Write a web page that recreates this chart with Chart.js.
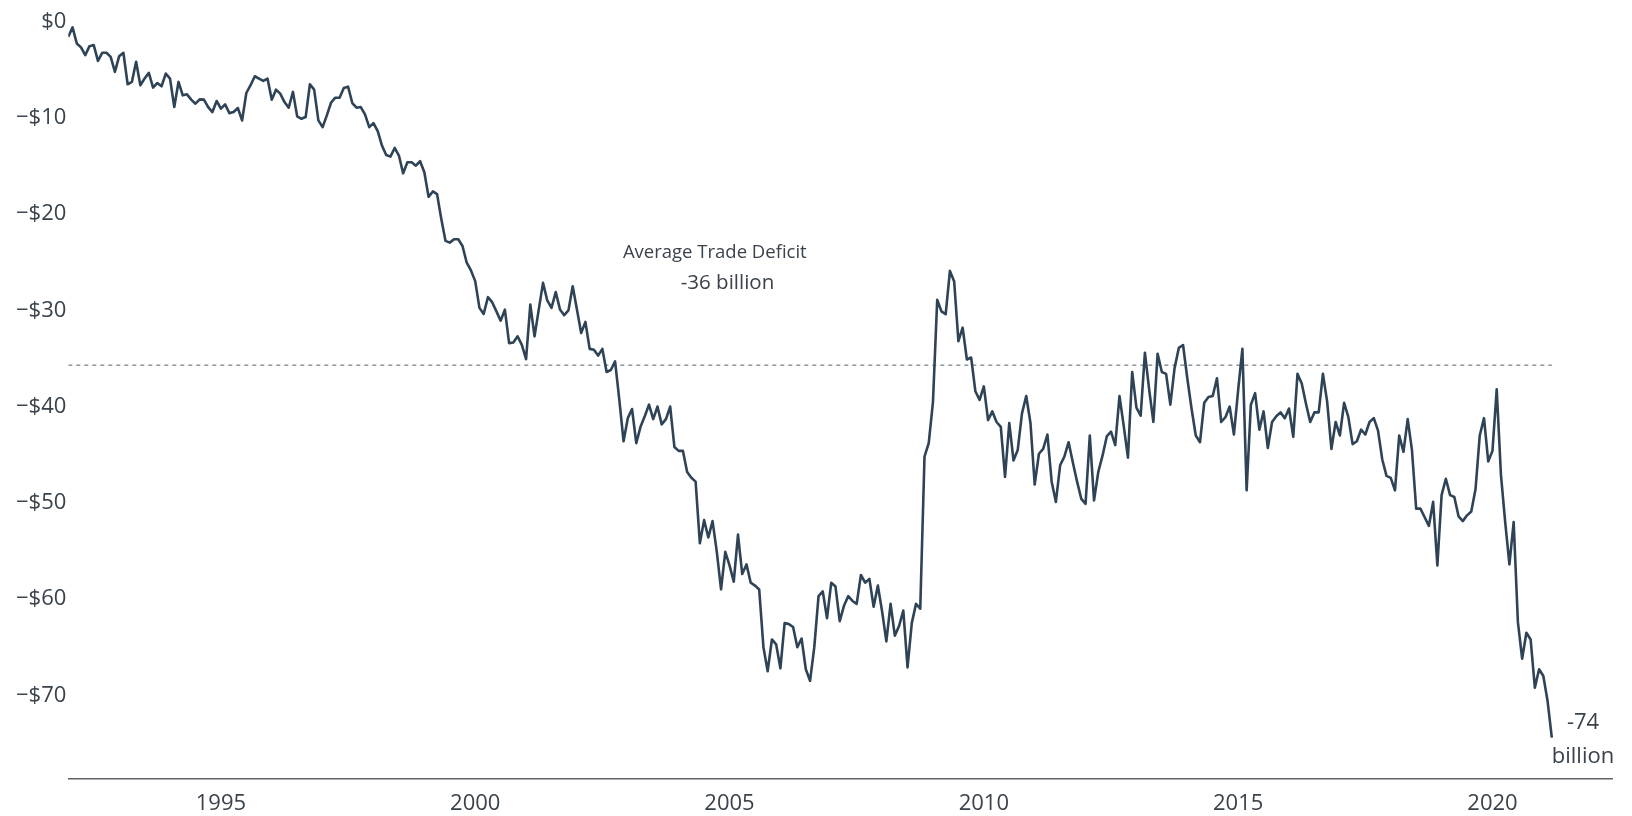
<!DOCTYPE html>
<html>
<head>
<meta charset="utf-8">
<script src="https://cdn.jsdelivr.net/npm/chart.js@4/dist/chart.umd.min.js"></script>
<style>
  html, body { margin: 0; padding: 0; background: #ffffff; }
  #wrap { width: 1632px; height: 816px; position: relative; }
</style>
</head>
<body>
<div id="wrap"><canvas id="c" width="1632" height="816"></canvas></div>
<script>
// Monthly US trade balance, billions of dollars, starting January 1992
const startYear = 1992;
const monthsPerYear = 12;
const tradeBalance = [
  -1.57, -0.59, -2.26, -2.67, -3.48, -2.54, -2.43, -4.07, -3.23, -3.23, -3.65, -5.21,
  -3.58, -3.23, -6.50, -6.26, -4.17, -6.60, -5.91, -5.32, -6.85, -6.37, -6.71, -5.39,
  -5.91, -8.87, -6.26, -7.65, -7.55, -8.10, -8.52, -8.07, -8.10, -8.87, -9.39, -8.24,
  -9.04, -8.59, -9.50, -9.39, -8.97, -10.26, -7.41, -6.60, -5.67, -5.91, -6.15, -5.91,
  -8.10, -7.06, -7.48, -8.35, -8.94, -7.30, -9.84, -10.09, -9.91, -6.50, -7.06, -10.26,
  -10.96, -9.74, -8.40, -7.90, -7.90, -6.90, -6.75, -8.45, -8.94, -8.87, -9.64, -10.96,
  -10.54, -11.38, -12.87, -13.85, -14.02, -13.12, -13.91, -15.76, -14.61, -14.61, -14.96, -14.50,
  -15.65, -18.20, -17.64, -17.92, -20.50, -22.78, -22.96, -22.61, -22.61, -23.31, -25.05, -25.85,
  -26.96, -29.74, -30.37, -28.63, -29.15, -30.10, -31.07, -29.92, -33.40, -33.33, -32.70, -33.58,
  -35.07, -29.40, -32.70, -29.90, -27.14, -28.97, -29.74, -28.10, -29.90, -30.50, -30.00, -27.50,
  -29.90, -32.36, -31.20, -34.00, -34.10, -34.70, -34.00, -36.40, -36.20, -35.30, -39.30, -43.60,
  -41.20, -40.25, -43.80, -42.10, -41.00, -39.80, -41.30, -40.00, -41.85, -41.30, -40.00, -44.20,
  -44.60, -44.60, -46.80, -47.40, -47.80, -54.20, -51.80, -53.60, -51.90, -55.10, -59.00, -55.10,
  -56.50, -58.20, -53.30, -57.40, -56.40, -58.30, -58.60, -59.00, -65.00, -67.50, -64.20, -64.70,
  -67.20, -62.50, -62.60, -62.90, -65.00, -64.10, -67.30, -68.50, -65.00, -59.70, -59.20, -62.00,
  -58.30, -58.70, -62.30, -60.70, -59.70, -60.20, -60.50, -57.50, -58.30, -57.90, -60.80, -58.60,
  -61.30, -64.40, -60.50, -63.80, -62.80, -61.20, -67.10, -62.50, -60.50, -61.00, -45.20, -43.80,
  -39.50, -28.90, -30.10, -30.40, -25.90, -27.00, -33.20, -31.80, -35.10, -34.90, -38.40, -39.30,
  -37.90, -41.40, -40.50, -41.60, -42.10, -47.30, -41.70, -45.60, -44.50, -40.70, -38.90, -41.70,
  -48.10, -44.90, -44.40, -42.90, -47.80, -49.90, -46.10, -45.20, -43.70, -45.80, -47.80, -49.60,
  -50.10, -43.00, -49.75, -46.80, -45.10, -43.10, -42.60, -44.00, -38.90, -42.00, -45.30, -36.40,
  -40.10, -40.95, -34.40, -38.20, -41.60, -34.50, -36.40, -36.60, -39.80, -36.00, -33.90, -33.60,
  -37.05, -40.20, -43.00, -43.70, -39.60, -39.00, -38.90, -37.05, -41.60, -41.10, -40.00, -42.90,
  -38.30, -34.00, -48.70, -39.80, -38.60, -42.40, -40.50, -44.30, -41.60, -41.00, -40.60, -41.20,
  -40.20, -43.15, -36.60, -37.60, -39.70, -41.60, -40.60, -40.60, -36.60, -39.50, -44.40, -41.60,
  -43.00, -39.60, -41.10, -43.90, -43.60, -42.40, -42.90, -41.60, -41.20, -42.50, -45.50, -47.20,
  -47.40, -48.70, -43.00, -44.70, -41.30, -44.50, -50.60, -50.60, -51.50, -52.40, -49.90, -56.50,
  -49.20, -47.50, -49.20, -49.40, -51.40, -51.90, -51.30, -50.90, -48.60, -43.00, -41.20, -45.70,
  -44.60, -38.20, -47.10, -52.00, -56.40, -52.00, -62.40, -66.20, -63.50, -64.20, -69.20, -67.30,
  -68.00, -70.60, -74.40
];
const averageDeficit = -35.7;
const yTickValues = [0, -10, -20, -30, -40, -50, -60, -70];
const xTickValues = [1995, 2000, 2005, 2010, 2015, 2020];
const annotationLines = [
  { text: 'Average Trade Deficit', x: 2004.71, y: -24.0, size: 18.5 },
  { text: '-36 billion', x: 2004.96, y: -27.2, size: 20.5 },
  { text: '-74', x: 2021.78, y: -72.9, size: 22 },
  { text: 'billion', x: 2021.78, y: -76.4, size: 22 }
];

const fontFamily = '"Open Sans", "Noto Sans", sans-serif';
const lineColor = '#2f4357';
const textColor = '#3a424b';

const seriesPoints = tradeBalance.map((v, i) => ({ x: startYear + i / monthsPerYear, y: v }));
const lastX = startYear + (tradeBalance.length - 1) / monthsPerYear;
const avgPoints = [{ x: startYear, y: averageDeficit }, { x: lastX, y: averageDeficit }];

const annotationPlugin = {
  id: 'textNotes',
  afterDatasetsDraw(chart) {
    const ctx = chart.ctx;
    const xs = chart.scales.x, ys = chart.scales.y;
    ctx.save();
    ctx.fillStyle = textColor;
    ctx.textAlign = 'center';
    ctx.textBaseline = 'middle';
    annotationLines.forEach(a => {
      ctx.font = a.size + 'px ' + fontFamily;
      ctx.fillText(a.text, xs.getPixelForValue(a.x), ys.getPixelForValue(a.y));
    });
    ctx.restore();
  }
};

new Chart(document.getElementById('c'), {
  type: 'line',
  data: {
    datasets: [
      {
        data: seriesPoints,
        borderColor: lineColor,
        borderWidth: 2.6,
        pointRadius: 0,
        tension: 0,
        borderJoinStyle: 'round',
        order: 1
      },
      {
        data: avgPoints,
        borderColor: '#8d949b',
        borderWidth: 1.5,
        borderDash: [4, 4],
        pointRadius: 0,
        order: 2
      }
    ]
  },
  options: {
    responsive: false,
    animation: false,
    events: [],
    layout: { padding: { top: 21.7, right: 20, bottom: 0, left: 0 } },
    plugins: { legend: { display: false }, tooltip: { enabled: false } },
    scales: {
      x: {
        type: 'linear',
        min: 1992,
        max: 2022.35,
        grid: { display: false, drawTicks: false },
        border: { display: true, color: '#5d6369', width: 1.6 },
        ticks: {
          color: textColor,
          font: { family: fontFamily, size: 22 },
          padding: 12,
          maxRotation: 0,
          callback: v => String(v)
        },
        afterBuildTicks: s => { s.ticks = xTickValues.map(v => ({ value: v })); },
        afterFit: s => { s.height = 37; }
      },
      y: {
        type: 'linear',
        min: -78.7,
        max: 0,
        grid: { display: false, drawTicks: false },
        border: { display: false },
        ticks: {
          color: textColor,
          font: { family: fontFamily, size: 22 },
          padding: 2,
          callback: v => (v === 0 ? '$0' : '\u2212$' + Math.abs(v))
        },
        afterBuildTicks: s => { s.ticks = yTickValues.map(v => ({ value: v })); },
        afterFit: s => { s.width = 68.3; }
      }
    }
  },
  plugins: [annotationPlugin]
});
</script>
</body>
</html>
